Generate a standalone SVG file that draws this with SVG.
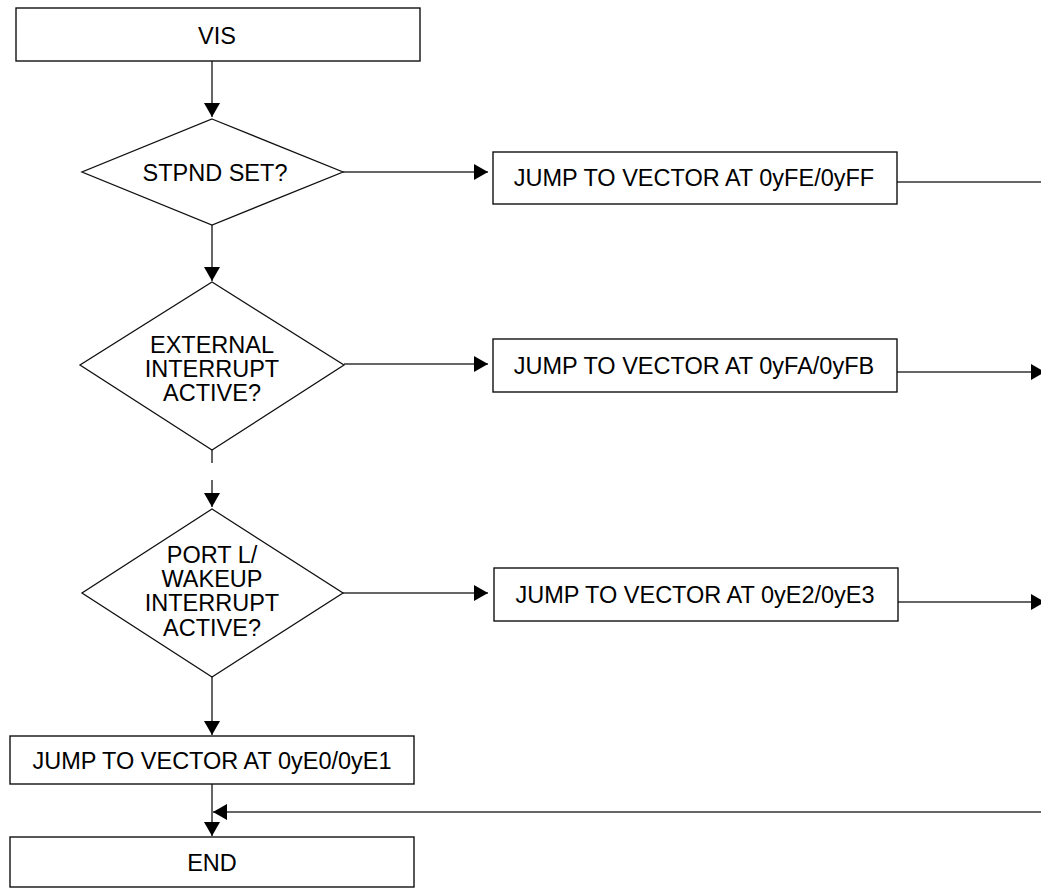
<svg xmlns="http://www.w3.org/2000/svg" width="1041" height="888" viewBox="0 0 1041 888">
<defs>
<marker id="ah" markerUnits="userSpaceOnUse" markerWidth="16" markerHeight="17" refX="14" refY="8" orient="auto">
<path d="M0,0 L14,8 L0,16 z" fill="#000"/>
</marker>
<style>
.box{fill:#fff;stroke:#111;stroke-width:1.4}
.dia{fill:#fff;stroke:#111;stroke-width:1.3}
.t{font-family:"Liberation Sans",Arial,sans-serif;font-size:23.5px;fill:#000;text-anchor:middle}
.c{fill:none;stroke:#333;stroke-width:1.5}
</style>
</defs>
<rect width="1041" height="888" fill="#fff"/>
<g id="connectors">
<line class="c" x1="212" y1="61" x2="212" y2="117" marker-end="url(#ah)"/>
<line class="c" x1="343" y1="172" x2="488" y2="172" marker-end="url(#ah)"/>
<line class="c" x1="897" y1="182" x2="1041" y2="182"/>
<line class="c" x1="212" y1="225" x2="212" y2="281" marker-end="url(#ah)"/>
<line class="c" x1="344" y1="364" x2="488" y2="364" marker-end="url(#ah)"/>
<line class="c" x1="897" y1="372" x2="1045" y2="372" marker-end="url(#ah)"/>
<line class="c" x1="212" y1="450" x2="212" y2="463"/>
<line class="c" x1="212" y1="480" x2="212" y2="507" marker-end="url(#ah)"/>
<line class="c" x1="343" y1="593" x2="488" y2="593" marker-end="url(#ah)"/>
<line class="c" x1="898" y1="602" x2="1045" y2="602" marker-end="url(#ah)"/>
<line class="c" x1="212" y1="677" x2="212" y2="735" marker-end="url(#ah)"/>
<line class="c" x1="212" y1="784" x2="212" y2="836" marker-end="url(#ah)"/>
<line class="c" x1="1041" y1="812" x2="213" y2="812" marker-end="url(#ah)"/>
</g>
<g id="vis">
<rect class="box" x="16" y="8" width="404" height="53"/>
<text class="t" x="217" y="44">VIS</text>
</g>
<g id="stpnd">
<polygon class="dia" points="212,119 343,172 212,225 82,172"/>
<text class="t" x="215" y="181">STPND SET?</text>
</g>
<g id="jump-fe">
<rect class="box" x="493" y="152" width="404" height="52"/>
<text class="t" x="694" y="186">JUMP TO VECTOR AT 0yFE/0yFF</text>
</g>
<g id="external">
<polygon class="dia" points="212,282 344,365 212,450 80,365"/>
<text class="t" x="212" y="353">EXTERNAL</text>
<text class="t" x="212" y="377">INTERRUPT</text>
<text class="t" x="212" y="401">ACTIVE?</text>
</g>
<g id="jump-fa">
<rect class="box" x="493" y="339" width="404" height="53"/>
<text class="t" x="694" y="374">JUMP TO VECTOR AT 0yFA/0yFB</text>
</g>
<g id="portl">
<polygon class="dia" points="212,509 343,593 212,677 82,593"/>
<text class="t" x="212" y="563">PORT L/</text>
<text class="t" x="212" y="587">WAKEUP</text>
<text class="t" x="212" y="611">INTERRUPT</text>
<text class="t" x="212" y="636">ACTIVE?</text>
</g>
<g id="jump-e2">
<rect class="box" x="494" y="568" width="404" height="53"/>
<text class="t" x="695" y="603">JUMP TO VECTOR AT 0yE2/0yE3</text>
</g>
<g id="jump-e0">
<rect class="box" x="10" y="736" width="404" height="48"/>
<text class="t" x="212" y="769">JUMP TO VECTOR AT 0yE0/0yE1</text>
</g>
<g id="end">
<rect class="box" x="10" y="837" width="404" height="50"/>
<text class="t" x="212" y="871">END</text>
</g>
</svg>
